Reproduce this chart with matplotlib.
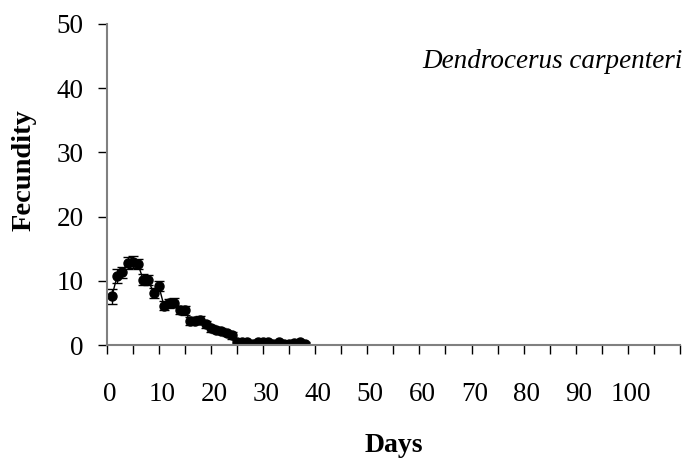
import matplotlib.pyplot as plt
from matplotlib.transforms import ScaledTranslation

# daily fecundity (mean +/- SE) for Dendrocerus carpenteri
days = list(range(1, 39))
fecundity = [7.6, 10.7, 11.3, 12.8, 12.9, 12.6, 10.2, 10.1, 8.1, 9.2,
             6.1, 6.5, 6.6, 5.5, 5.4, 3.7, 3.8, 3.9, 3.2, 2.6,
             2.3, 2.2, 1.8, 1.5, 0.5, 0.4, 0.4, 0.2, 0.4, 0.4,
             0.4, 0.2, 0.4, 0.2, 0.2, 0.3, 0.4, 0.2]
se = [1.2, 1.1, 0.8, 0.9, 0.9, 0.8, 0.9, 0.8, 0.8, 0.8,
      0.7, 0.7, 0.7, 0.6, 0.7, 0.6, 0.6, 0.6, 0.6, 0.5,
      0.5, 0.5, 0.4, 0.5, 0.3, 0.2, 0.2, 0.2, 0.2, 0.2,
      0.2, 0.2, 0.2, 0.2, 0.2, 0.2, 0.2, 0.2]

x_ticks = list(range(0, 115, 5))
x_labels = [str(t) if t % 10 == 0 and t <= 100 else '' for t in x_ticks]
y_ticks = [0, 10, 20, 30, 40, 50]

plt.rcParams['font.family'] = ['Liberation Serif', 'DejaVu Serif']

fig = plt.figure(figsize=(6.95, 4.58), dpi=100)
ax = fig.add_axes([0.1535, 0.2467, 0.8249, 0.7009])

ax.errorbar(days, fecundity, yerr=se, fmt='-o', color='black',
            markersize=6.5, linewidth=1, elinewidth=1, capsize=3.5,
            capthick=1)

ax.set_xlim(0, 110)
ax.set_ylim(0, 50)
ax.set_xticks(x_ticks)
ax.set_xticklabels(x_labels)
ax.set_yticks(y_ticks)

for side in ['top', 'right']:
    ax.spines[side].set_visible(False)
for side in ['left', 'bottom']:
    ax.spines[side].set_color('#808080')
    ax.spines[side].set_linewidth(1.5)

ax.tick_params(axis='both', direction='out', length=6.5, width=1,
               color='black', labelsize=19.5)
ax.tick_params(axis='x', pad=20)
ax.tick_params(axis='y', pad=10)

# nudge day labels slightly right of their ticks
shift = ScaledTranslation(3 / 100, 0, fig.dpi_scale_trans)
for lbl in ax.get_xticklabels():
    lbl.set_transform(lbl.get_transform() + shift)

ax.set_xlabel('Days', fontsize=20, fontweight='bold')
ax.xaxis.set_label_coords(0.5, -0.275)
ax.set_ylabel('Fecundity', fontsize=20.5, fontweight='bold')
ax.yaxis.set_label_coords(-0.122, 0.545)

ax.text(1.005, 0.882, 'Dendrocerus carpenteri', transform=ax.transAxes,
        ha='right', va='center', fontsize=19.5, style='italic')

fig.savefig('out.png', dpi=100)
